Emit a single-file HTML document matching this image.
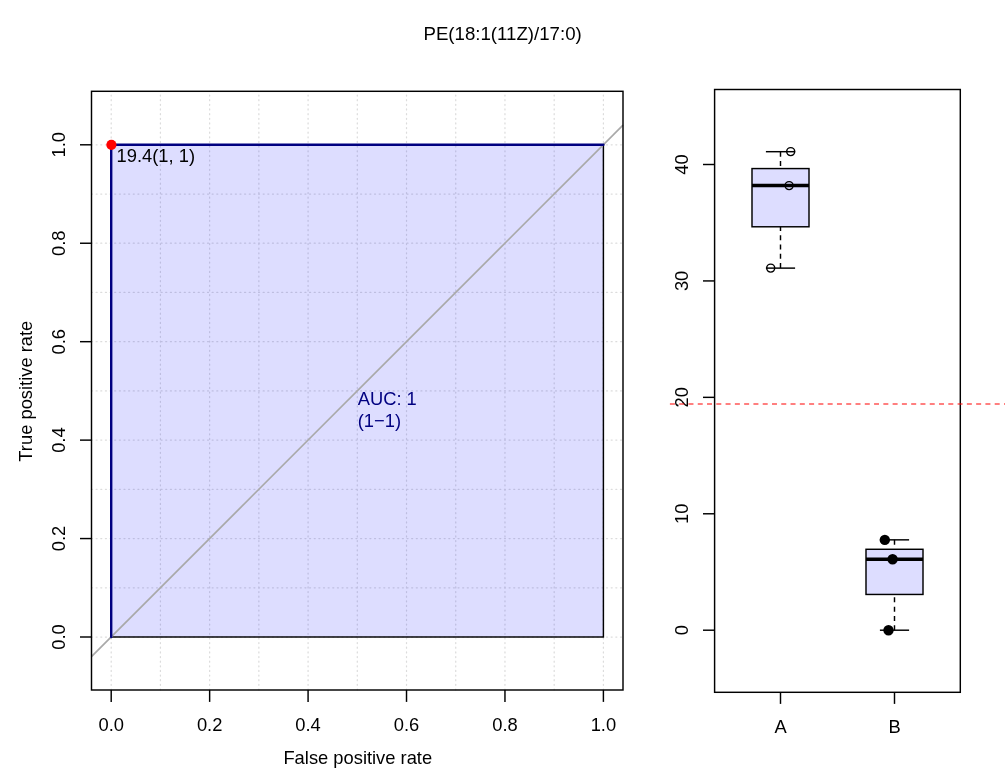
<!DOCTYPE html>
<html><head><meta charset="utf-8"><title>ROC</title>
<style>
html,body{margin:0;padding:0;background:#fff;}
svg{display:block;will-change:transform;}
text{font-family:"Liberation Sans",sans-serif;font-size:18.33px;fill:#000;}
</style></head><body>
<svg width="1005" height="782" viewBox="0 0 1005 782">
<rect x="0" y="0" width="1005" height="782" fill="#ffffff"/>
<text x="502.6" y="39.9" text-anchor="middle" style="font-size:18.66px">PE(18:1(11Z)/17:0)</text>
<g stroke="#dcdcdc" stroke-width="1.25" stroke-linecap="round" stroke-dasharray="1.0 3.64" fill="none">
<line x1="111.20" y1="690.00" x2="111.20" y2="91.30"/>
<line x1="91.50" y1="637.00" x2="623.00" y2="637.00"/>
<line x1="160.42" y1="690.00" x2="160.42" y2="91.30"/>
<line x1="91.50" y1="587.78" x2="623.00" y2="587.78"/>
<line x1="209.64" y1="690.00" x2="209.64" y2="91.30"/>
<line x1="91.50" y1="538.56" x2="623.00" y2="538.56"/>
<line x1="258.86" y1="690.00" x2="258.86" y2="91.30"/>
<line x1="91.50" y1="489.34" x2="623.00" y2="489.34"/>
<line x1="308.08" y1="690.00" x2="308.08" y2="91.30"/>
<line x1="91.50" y1="440.12" x2="623.00" y2="440.12"/>
<line x1="357.30" y1="690.00" x2="357.30" y2="91.30"/>
<line x1="91.50" y1="390.90" x2="623.00" y2="390.90"/>
<line x1="406.52" y1="690.00" x2="406.52" y2="91.30"/>
<line x1="91.50" y1="341.68" x2="623.00" y2="341.68"/>
<line x1="455.74" y1="690.00" x2="455.74" y2="91.30"/>
<line x1="91.50" y1="292.46" x2="623.00" y2="292.46"/>
<line x1="504.96" y1="690.00" x2="504.96" y2="91.30"/>
<line x1="91.50" y1="243.24" x2="623.00" y2="243.24"/>
<line x1="554.18" y1="690.00" x2="554.18" y2="91.30"/>
<line x1="91.50" y1="194.02" x2="623.00" y2="194.02"/>
<line x1="603.40" y1="690.00" x2="603.40" y2="91.30"/>
<line x1="91.50" y1="144.80" x2="623.00" y2="144.80"/>
</g>
<rect x="111.20" y="144.80" width="492.20" height="492.20" fill="#0000ff" fill-opacity="0.1333" stroke="#000" stroke-width="1.45"/>
<line x1="91.50" y1="656.69" x2="623.00" y2="125.11" stroke="#a9a9a9" stroke-width="1.7"/>
<polyline points="111.20,637.00 111.20,144.80 603.40,144.80" fill="none" stroke="#000080" stroke-width="2.4" stroke-linejoin="round" stroke-linecap="round"/>
<rect x="91.50" y="91.30" width="531.50" height="598.70" fill="none" stroke="#000" stroke-width="1.45"/>
<g stroke="#000" stroke-width="1.45">
<line x1="111.20" y1="690.00" x2="111.20" y2="701.90"/>
<line x1="91.50" y1="637.00" x2="80.00" y2="637.00"/>
<line x1="209.64" y1="690.00" x2="209.64" y2="701.90"/>
<line x1="91.50" y1="538.56" x2="80.00" y2="538.56"/>
<line x1="308.08" y1="690.00" x2="308.08" y2="701.90"/>
<line x1="91.50" y1="440.12" x2="80.00" y2="440.12"/>
<line x1="406.52" y1="690.00" x2="406.52" y2="701.90"/>
<line x1="91.50" y1="341.68" x2="80.00" y2="341.68"/>
<line x1="504.96" y1="690.00" x2="504.96" y2="701.90"/>
<line x1="91.50" y1="243.24" x2="80.00" y2="243.24"/>
<line x1="603.40" y1="690.00" x2="603.40" y2="701.90"/>
<line x1="91.50" y1="144.80" x2="80.00" y2="144.80"/>
</g>
<text x="111.20" y="731" text-anchor="middle">0.0</text>
<text transform="translate(65,637.00) rotate(-90)" text-anchor="middle">0.0</text>
<text x="209.64" y="731" text-anchor="middle">0.2</text>
<text transform="translate(65,538.56) rotate(-90)" text-anchor="middle">0.2</text>
<text x="308.08" y="731" text-anchor="middle">0.4</text>
<text transform="translate(65,440.12) rotate(-90)" text-anchor="middle">0.4</text>
<text x="406.52" y="731" text-anchor="middle">0.6</text>
<text transform="translate(65,341.68) rotate(-90)" text-anchor="middle">0.6</text>
<text x="504.96" y="731" text-anchor="middle">0.8</text>
<text transform="translate(65,243.24) rotate(-90)" text-anchor="middle">0.8</text>
<text x="603.40" y="731" text-anchor="middle">1.0</text>
<text transform="translate(65,144.80) rotate(-90)" text-anchor="middle">1.0</text>
<text x="357.8" y="763.9" text-anchor="middle">False positive rate</text>
<text transform="translate(31.6,391.2) rotate(-90)" text-anchor="middle">True positive rate</text>
<text x="357.7" y="404.8" style="fill:#000080">AUC: 1</text>
<text x="357.7" y="426.8" style="fill:#000080">(1−1)</text>
<circle cx="111.40" cy="144.80" r="5.1" fill="#ff0000"/>
<text x="116.6" y="161.9">19.4(1, 1)</text>
<g stroke="#000" stroke-width="1.45" fill="none">
<line x1="780.50" y1="268.12" x2="780.50" y2="226.79" stroke-dasharray="5 4.28"/>
<line x1="780.50" y1="151.69" x2="780.50" y2="168.57" stroke-dasharray="5 4.28"/>
<line x1="765.90" y1="268.12" x2="795.10" y2="268.12"/>
<line x1="765.90" y1="151.69" x2="795.10" y2="151.69"/>
<rect x="752.00" y="168.57" width="57.00" height="58.21" fill="#0000ff" fill-opacity="0.1333"/>
<line x1="752.00" y1="185.46" x2="809.00" y2="185.46" stroke-width="3.5"/>
</g>
<circle cx="790.70" cy="151.60" r="4.0" fill="none" stroke="#000" stroke-width="1.45"/>
<circle cx="789.10" cy="185.60" r="4.0" fill="none" stroke="#000" stroke-width="1.45"/>
<circle cx="770.70" cy="268.10" r="4.0" fill="none" stroke="#000" stroke-width="1.45"/>
<g stroke="#000" stroke-width="1.45" fill="none">
<line x1="894.50" y1="630.20" x2="894.50" y2="594.46" stroke-dasharray="5 4.28"/>
<line x1="894.50" y1="539.85" x2="894.50" y2="549.28" stroke-dasharray="5 4.28"/>
<line x1="879.90" y1="630.20" x2="909.10" y2="630.20"/>
<line x1="879.90" y1="539.85" x2="909.10" y2="539.85"/>
<rect x="866.00" y="549.28" width="57.00" height="45.17" fill="#0000ff" fill-opacity="0.1333"/>
<line x1="866.00" y1="559.18" x2="923.00" y2="559.18" stroke-width="3.5"/>
</g>
<circle cx="884.80" cy="539.90" r="5.2" fill="#000"/>
<circle cx="892.60" cy="559.20" r="5.2" fill="#000"/>
<circle cx="888.50" cy="630.30" r="5.2" fill="#000"/>
<rect x="714.60" y="89.50" width="245.70" height="602.80" fill="none" stroke="#000" stroke-width="1.45"/>
<g stroke="#000" stroke-width="1.45">
<line x1="714.60" y1="630.20" x2="703.00" y2="630.20"/>
<line x1="714.60" y1="513.78" x2="703.00" y2="513.78"/>
<line x1="714.60" y1="397.35" x2="703.00" y2="397.35"/>
<line x1="714.60" y1="280.93" x2="703.00" y2="280.93"/>
<line x1="714.60" y1="164.50" x2="703.00" y2="164.50"/>
<line x1="780.50" y1="692.30" x2="780.50" y2="703.90"/>
<line x1="894.50" y1="692.30" x2="894.50" y2="703.90"/>
</g>
<text transform="translate(687.8,630.20) rotate(-90)" text-anchor="middle">0</text>
<text transform="translate(687.8,513.78) rotate(-90)" text-anchor="middle">10</text>
<text transform="translate(687.8,397.35) rotate(-90)" text-anchor="middle">20</text>
<text transform="translate(687.8,280.93) rotate(-90)" text-anchor="middle">30</text>
<text transform="translate(687.8,164.50) rotate(-90)" text-anchor="middle">40</text>
<text x="780.50" y="733" text-anchor="middle">A</text>
<text x="894.50" y="733" text-anchor="middle">B</text>
<line x1="669.9" y1="404" x2="1006" y2="404" stroke="#ff0000" stroke-width="1.16" stroke-dasharray="5 4.28"/>
</svg>
</body></html>
